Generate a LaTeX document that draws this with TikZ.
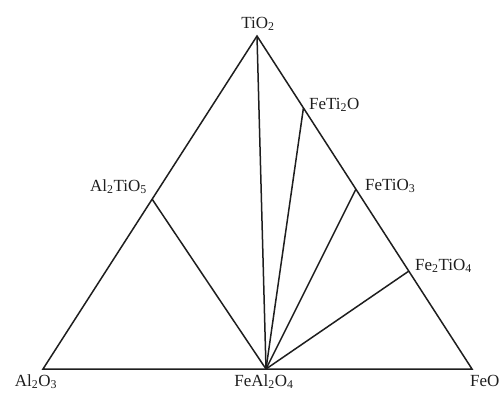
\documentclass[tikz,border=0pt]{standalone}
\usepackage{fontspec}
\setmainfont{Liberation Serif}
\usetikzlibrary{positioning,calc}
\definecolor{ink}{HTML}{1E1E1E}

\begin{document}
\begin{tikzpicture}[x=1pt,y=-1pt,
    edge/.style={draw=ink,line width=1.5pt,line join=miter},
    tie/.style={draw=ink,line width=1.5pt},
    phase/.style={inner sep=0pt,font=\fontsize{17}{17}\selectfont,text=ink}]
  \useasboundingbox (0,0) rectangle (501,392);
  % corners of the triangle
  \coordinate (al2o3) at (43,369);
  \coordinate (feo) at (472,369);
  \coordinate (tio2) at (257,36);
  % compounds on the edges
  \coordinate (feal2o4) at (266,369);
  \coordinate (al2tio5) at ($(al2o3)!0.51!(tio2)$);
  \coordinate (feti2o) at ($(tio2)!0.216!(feo)$);
  \coordinate (fetio3) at ($(tio2)!0.46!(feo)$);
  \coordinate (fe2tio4) at ($(tio2)!0.706!(feo)$);
  \draw[edge] (al2o3) -- (tio2) -- (feo) -- cycle;
  % tie lines
  \foreach \p in {tio2,al2tio5,feti2o,fetio3,fe2tio4}
    \draw[tie] (feal2o4) -- (\p);
  % labels
  \node[phase,anchor=base] (tio2lbl) at (258,28) {TiO\textsubscript{2}};
  \node[phase,anchor=base] (al2o3lbl) at (36,386) {Al\textsubscript{2}O\textsubscript{3}};
  \node[phase,anchor=base] (feal2o4lbl) at (264,386) {FeAl\textsubscript{2}O\textsubscript{4}};
  \node[phase,anchor=base west] (feolbl) at (470,386) {FeO};
  \node[phase,anchor=base west] (feti2olbl) at (309,109) {FeTi\textsubscript{2}O};
  \node[phase,anchor=base east] (al2tio5lbl) at (147,191) {Al\textsubscript{2}TiO\textsubscript{5}};
  \node[phase,anchor=base west] (fetio3lbl) at (365,190) {FeTiO\textsubscript{3}};
  \node[phase,anchor=base west] (fe2tio4lbl) at (415,270) {Fe\textsubscript{2}TiO\textsubscript{4}};
\end{tikzpicture}
\end{document}
